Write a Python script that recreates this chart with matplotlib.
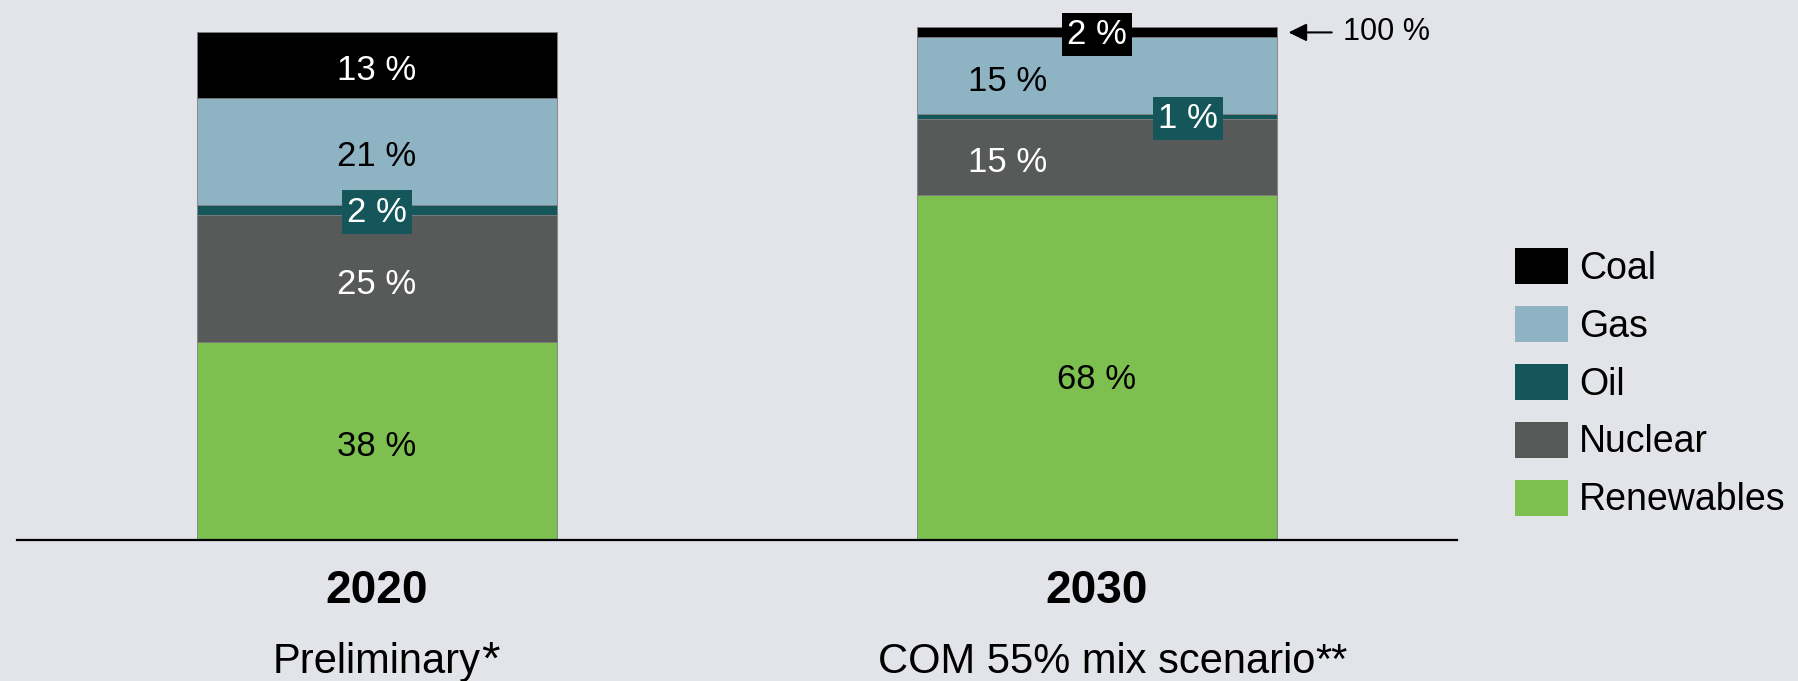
import numpy as np
import matplotlib.pyplot as plt
from matplotlib.patches import Patch

plt.rcParams['font.family'] = ['Liberation Sans', 'DejaVu Sans']

# data
years = ['2020', '2030']
subtitles = ['Preliminary', 'COM 55% mix scenario']
stars = ['*', '**']
sources = ['Renewables', 'Nuclear', 'Oil', 'Gas', 'Coal']
colors = ['#7dc050', '#575a59', '#15565a', '#8eb4c4', '#000000']
renewables = [38.6, 67.3]
nuclear = [24.8, 14.9]
oil = [1.95, 0.85]
gas = [20.9, 15.0]
coal = [12.9, 1.95]
labels = {
    'Renewables': ['38 %', '68 %'],
    'Nuclear': ['25 %', '15 %'],
    'Oil': ['2 %', '1 %'],
    'Gas': ['21 %', '15 %'],
    'Coal': ['13 %', '2 %'],
}
text_colors = ['black', 'white', 'white', 'black', 'white']

series = [renewables, nuclear, oil, gas, coal]
bg = '#e2e4e9'

W, H = 1798, 681
fig = plt.figure(figsize=(W / 100, H / 100), dpi=100, facecolor=bg)
ax = fig.add_axes([17 / W, 141 / H, 1440 / W, 512.7 / H])
ax.set_facecolor(bg)

x = np.arange(len(years))
width = 0.5
bottom = np.zeros(len(years))
for name, vals, col, tc in zip(sources, series, colors, text_colors):
    vals = np.array(vals)
    ax.bar(x, vals, width, bottom=bottom, color=col, edgecolor='#7f7f7f',
           linewidth=0.6, label=name)
    mids = bottom + vals / 2
    for i in range(len(years)):
        xi = x[i]
        box = None
        dy = -4
        if name == 'Oil' or (name == 'Coal' and i == 1):
            box = dict(boxstyle='square,pad=0.15', fc=col, ec='none')
            dy = -1.5
            if name == 'Oil' and i == 1:
                xi = x[i] + 0.126
        elif name in ('Gas', 'Nuclear') and i == 1:
            xi = x[i] - 0.124
        elif name == 'Renewables' and i == 1:
            dy = -9
        ax.annotate(labels[name][i], (xi, mids[i]), xytext=(0, dy),
                    textcoords='offset points', ha='center', va='center',
                    fontsize=25, color=tc, bbox=box, zorder=5)
    bottom = bottom + vals

# arrow pointing at the 100 % line
top = bottom[1] - 1
ax.annotate('', xy=(1.266, top), xytext=(1.326, top),
            arrowprops=dict(arrowstyle='-|>,head_length=0.55,head_width=0.27',
                            color='black', lw=1.5, mutation_scale=20,
                            shrinkA=0, shrinkB=0))
ax.text(1.342, top, '100 %', fontsize=22, va='center', ha='left')

ax.set_xlim(-0.5, 1.5)
ax.set_ylim(0, 100)
for s in ['top', 'right', 'left']:
    ax.spines[s].set_visible(False)
ax.spines['bottom'].set_linewidth(1.6)
ax.spines['bottom'].set_color('black')
ax.set_xticks([])
ax.set_yticks([])

tr = ax.get_xaxis_transform()
for i in range(len(years)):
    ax.text(x[i], -0.123, years[i], transform=tr, ha='center', va='baseline',
            fontsize=33, fontweight='bold')
    t = ax.text(x[i], -0.259, subtitles[i], transform=tr, ha='center',
                va='baseline', fontsize=30)
    fig.canvas.draw()
    bb = t.get_window_extent()
    if i == 0:
        fig.text(bb.x1 / W, (bb.y0 + 8) / H, stars[i], fontsize=34,
                 va='baseline', ha='left')
    else:
        fig.text(bb.x1 / W, bb.y0 / H, stars[i], fontsize=30,
                 va='bottom', ha='left')

handles = [Patch(facecolor=c, edgecolor='none') for c in colors][::-1]
ax.legend(handles, sources[::-1], loc='upper left',
          bbox_to_anchor=(1515 / W, (H - 248) / H), bbox_transform=fig.transFigure,
          frameon=False, fontsize=27, handlelength=1.41, handleheight=1.1,
          handletextpad=0.3, labelspacing=0.51, borderpad=0, borderaxespad=0)

fig.savefig('out.png', dpi=100, facecolor=bg)
